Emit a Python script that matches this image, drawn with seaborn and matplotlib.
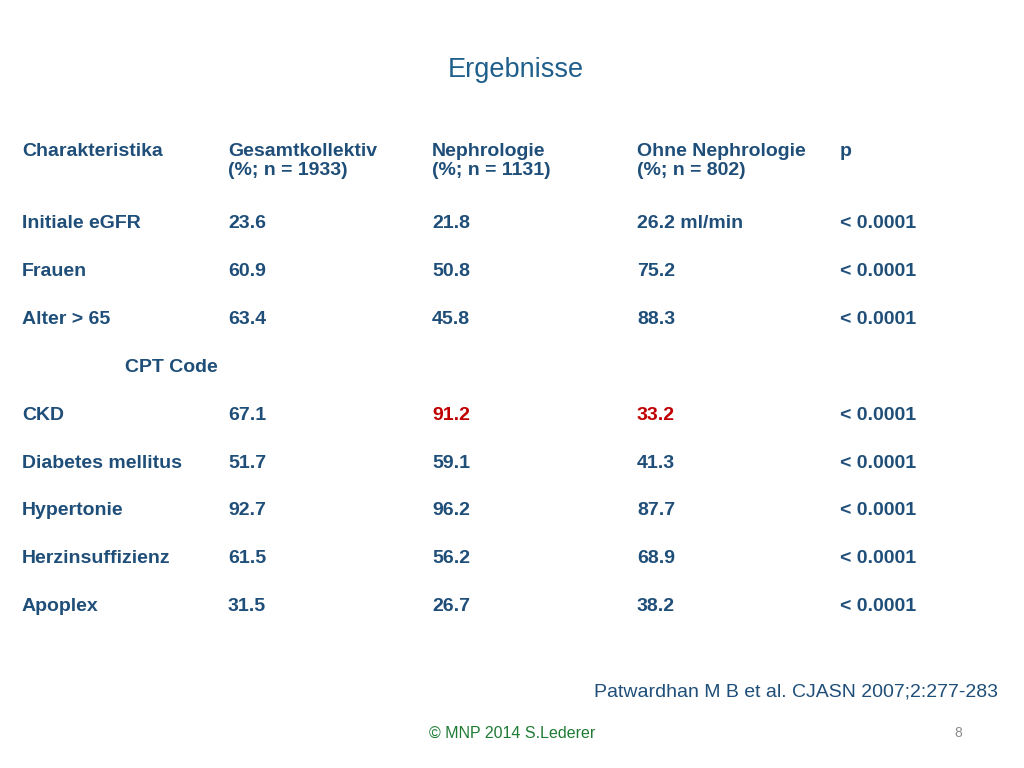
import matplotlib
matplotlib.use("Agg")
import matplotlib.pyplot as plt
import seaborn as sns

sns.set_theme(style="white", font="Liberation Sans")

title = "Ergebnisse"
headers = ["Charakteristika", "Gesamtkollektiv\n(%; n = 1933)", "Nephrologie\n(%; n = 1131)",
           "Ohne Nephrologie\n(%; n = 802)", "p"]
rows = ["Initiale eGFR", "Frauen", "Alter > 65", "CPT Code", "CKD", "Diabetes mellitus",
        "Hypertonie", "Herzinsuffizienz", "Apoplex"]
gesamt = ["23.6", "60.9", "63.4", "", "67.1", "51.7", "92.7", "61.5", "31.5"]
nephro = ["21.8", "50.8", "45.8", "", "91.2", "59.1", "96.2", "56.2", "26.7"]
ohne = ["26.2 ml/min", "75.2", "88.3", "", "33.2", "41.3", "87.7", "68.9", "38.2"]
pvals = ["< 0.0001", "< 0.0001", "< 0.0001", "", "< 0.0001", "< 0.0001", "< 0.0001", "< 0.0001", "< 0.0001"]
highlight_row = "CKD"
citation = "Patwardhan M B et al. CJASN 2007;2:277-283"
footer = "© MNP 2014 S.Lederer"
page = "8"

blue = "#1F4E79"
red = "#C00000"

fig = plt.figure(figsize=(10.24, 7.68), dpi=100)
ax = fig.add_axes([0, 0, 1, 1])
ax.set_xlim(0, 1024)
ax.set_ylim(768, 0)
ax.axis("off")

ax.text(516, 70, title, ha="center", va="center", fontsize=19.5, color="#1F5F8B")

col_x = [22, 228, 432, 637, 840]
fs = 14
for x, h in zip(col_x, headers):
    ax.text(x, 143, h, ha="left", va="top", fontsize=fs, fontweight="bold", color=blue, linespacing=1.15)

y0, dy = 224, 47.8
for i, r in enumerate(rows):
    y = y0 + i * dy
    if r == "CPT Code":
        ax.text(125, y, r, ha="left", va="center", fontsize=fs, fontweight="bold", color=blue)
        continue
    ax.text(col_x[0], y, r, ha="left", va="center", fontsize=fs, fontweight="bold", color=blue)
    ax.text(col_x[1], y, gesamt[i], ha="left", va="center", fontsize=fs, fontweight="bold", color=blue)
    c = red if r == highlight_row else blue
    ax.text(col_x[2], y, nephro[i], ha="left", va="center", fontsize=fs, fontweight="bold", color=c)
    ax.text(col_x[3], y, ohne[i], ha="left", va="center", fontsize=fs, fontweight="bold", color=c)
    ax.text(col_x[4], y, pvals[i], ha="left", va="center", fontsize=fs, fontweight="bold", color=blue)

ax.text(998, 692, citation, ha="right", va="center", fontsize=14, color=blue)
ax.text(512, 733, footer, ha="center", va="center", fontsize=11.5, color="#1E7B34")
ax.text(962, 733, page, ha="right", va="center", fontsize=10, color="#8C8C8C")

fig.savefig("out.png", dpi=100)
